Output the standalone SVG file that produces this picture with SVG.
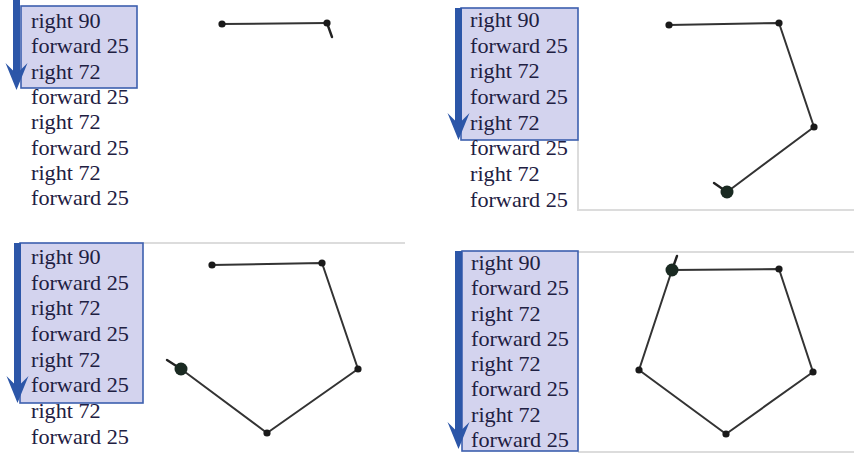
<svg xmlns="http://www.w3.org/2000/svg" xmlns:xlink="http://www.w3.org/1999/xlink" width="854" height="455" viewBox="0 0 854 455">
  <style>
    .hl { fill: #d3d3ee; stroke: #3d5fae; stroke-width: 1.6; }
    .shaft { fill: #2c56a8; }
    .head { fill: #2c56a8; }
    .cmd { font-family: "Liberation Serif", "Times New Roman", serif; font-size: 20px; fill: #1e2042; }
    .sep { stroke: #dcdcdc; stroke-width: 2; fill: none; }
    .trail { stroke: #333; stroke-width: 2; fill: none; stroke-linejoin: round; }
    .heading { stroke: #222; stroke-width: 2.4; stroke-linecap: round; }
    .pt { fill: #1a1a1a; }
    .turtle { fill: #1a2a22; }
  </style>
  <defs>
    <!-- arrowhead, tip at origin -->
    <path id="ahead" class="head" d="M -11 -27 L 0 -16 L 11 -27 L 0 0 Z"/>
  </defs>
  <rect width="854" height="455" fill="#ffffff"/>

  <!-- panel 1 : after "right 72" (step 3) -->
  <g id="panel1">
    <rect class="hl" x="21" y="6" width="116" height="82"/>
    <rect class="shaft" x="13" y="0" width="7" height="75"/>
    <use xlink:href="#ahead" x="16.5" y="90"/>
    <g class="cmd" transform="translate(31 0) scale(1.11 1)">
      <text x="0" y="28">right 90</text>
      <text x="0" y="53.3">forward 25</text>
      <text x="0" y="78.6">right 72</text>
      <text x="0" y="104">forward 25</text>
      <text x="0" y="129.3">right 72</text>
      <text x="0" y="154.6">forward 25</text>
      <text x="0" y="180">right 72</text>
      <text x="0" y="205.3">forward 25</text>
    </g>
  </g>

  <!-- panel 2 : after step 5 -->
  <g id="panel2">
    <path class="sep" d="M 578 140 V 210 H 854"/>
    <rect class="hl" x="461" y="8" width="117" height="132"/>
    <rect class="shaft" x="455" y="8" width="7" height="117"/>
    <use xlink:href="#ahead" x="458.5" y="140"/>
    <g class="cmd" transform="translate(470 0) scale(1.11 1)">
      <text x="0" y="27">right 90</text>
      <text x="0" y="52.7">forward 25</text>
      <text x="0" y="78.4">right 72</text>
      <text x="0" y="104.1">forward 25</text>
      <text x="0" y="129.8">right 72</text>
      <text x="0" y="155.5">forward 25</text>
      <text x="0" y="181.2">right 72</text>
      <text x="0" y="206.9">forward 25</text>
    </g>
  </g>

  <!-- panel 3 : after step 6 -->
  <g id="panel3">
    <path class="sep" d="M 143 243 H 405"/>
    <rect class="hl" x="20" y="243" width="123" height="160"/>
    <rect class="shaft" x="14" y="243" width="7" height="144"/>
    <use xlink:href="#ahead" x="17.5" y="403"/>
    <g class="cmd" transform="translate(31 0) scale(1.11 1)">
      <text x="0" y="264">right 90</text>
      <text x="0" y="289.7">forward 25</text>
      <text x="0" y="315.4">right 72</text>
      <text x="0" y="341.1">forward 25</text>
      <text x="0" y="366.8">right 72</text>
      <text x="0" y="392.5">forward 25</text>
      <text x="0" y="418.2">right 72</text>
      <text x="0" y="443.9">forward 25</text>
    </g>
  </g>

  <!-- panel 4 : after step 8 -->
  <g id="panel4">
    <path class="sep" d="M 578 252 H 854 M 578 452 H 854"/>
    <rect class="hl" x="462" y="251" width="116" height="200"/>
    <rect class="shaft" x="455" y="251" width="7" height="184"/>
    <use xlink:href="#ahead" x="458.5" y="449"/>
    <g class="cmd" transform="translate(471 0) scale(1.11 1)">
      <text x="0" y="270">right 90</text>
      <text x="0" y="295.3">forward 25</text>
      <text x="0" y="320.6">right 72</text>
      <text x="0" y="345.9">forward 25</text>
      <text x="0" y="371.2">right 72</text>
      <text x="0" y="396.5">forward 25</text>
      <text x="0" y="421.8">right 72</text>
      <text x="0" y="447.1">forward 25</text>
    </g>
  </g>

  <!-- turtle trails -->
  <g id="trails">
    <polyline class="trail" points="222,24 327,23"/>
    <line class="heading" x1="327" y1="23" x2="332" y2="37"/>

    <polyline class="trail" points="669,25 779,23 814,127 727,192"/>
    <line class="heading" x1="727" y1="192" x2="714" y2="183"/>

    <polyline class="trail" points="212,265 322,263 358,369 267,433 181,369"/>
    <line class="heading" x1="181" y1="369" x2="167" y2="360"/>

    <polygon class="trail" points="672,270 779,269 813,372 726,434 639,370"/>
    <line class="heading" x1="672" y1="270" x2="677" y2="256"/>
  </g>

  <!-- vertices and turtle positions -->
  <g id="points">
    <circle class="pt" cx="222" cy="24" r="3.6"/>
    <circle class="pt" cx="327" cy="23" r="3.6"/>

    <circle class="pt" cx="669" cy="25" r="3.6"/>
    <circle class="pt" cx="779" cy="23" r="3.6"/>
    <circle class="pt" cx="814" cy="127" r="3.6"/>
    <circle class="turtle" cx="727" cy="192" r="6.5"/>

    <circle class="pt" cx="212" cy="265" r="3.6"/>
    <circle class="pt" cx="322" cy="263" r="3.6"/>
    <circle class="pt" cx="358" cy="369" r="3.6"/>
    <circle class="pt" cx="267" cy="433" r="3.6"/>
    <circle class="turtle" cx="181" cy="369" r="6.5"/>

    <circle class="pt" cx="779" cy="269" r="3.6"/>
    <circle class="pt" cx="813" cy="372" r="3.6"/>
    <circle class="pt" cx="726" cy="434" r="3.6"/>
    <circle class="pt" cx="639" cy="370" r="3.6"/>
    <circle class="turtle" cx="672" cy="270" r="6.5"/>
  </g>
</svg>
